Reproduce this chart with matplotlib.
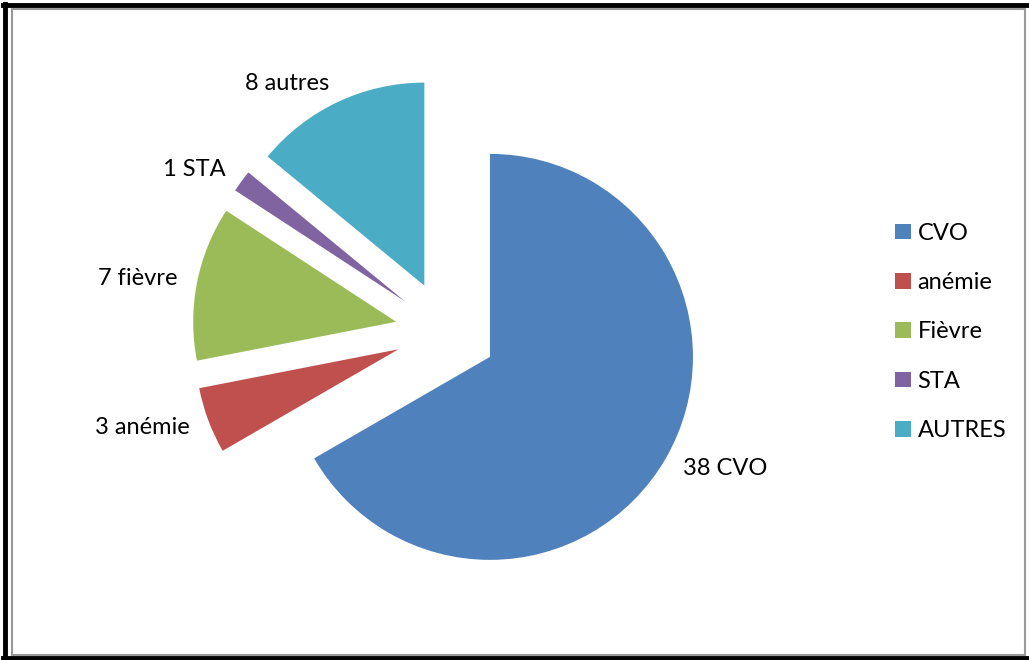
import matplotlib.pyplot as plt
from matplotlib.patches import Rectangle
from matplotlib.lines import Line2D

# Données
valeurs = [38, 3, 7, 1, 8]
etiquettes = ['38 CVO', '3 anémie', '7 fièvre', '1 STA', '8 autres']
legende = ['CVO', 'anémie', 'Fièvre', 'STA', 'AUTRES']
couleurs = ['#4F81BD', '#C0504D', '#9BBB59', '#8064A2', '#4BACC6']

plt.rcParams['font.family'] = ['Lato', 'DejaVu Sans']

W, H = 1029, 660
fig = plt.figure(figsize=(W / 100, H / 100), dpi=100)

# axes carré centré sur le centre du camembert (~446, 331 px), rayon ~203 px
taille = 600
ax = fig.add_axes([(446 - taille / 2) / W, (H - 331.5 - taille / 2) / H, taille / W, taille / H])
wedges, texts = ax.pie(valeurs, labels=etiquettes, colors=couleurs, startangle=90,
                       counterclock=False, explode=[0.25] * len(valeurs),
                       labeldistance=1.1, wedgeprops=dict(linewidth=0),
                       textprops=dict(fontsize=17, color='black'))
lim = taille / 2 / 203
ax.set_xlim(-lim, lim)
ax.set_ylim(-lim, lim)
ax.set_aspect('equal')
ax.axis('off')

fig.legend(wedges, legende, loc='center left', bbox_to_anchor=(874 / W, 1 - 332 / H),
           frameon=False, fontsize=17, handlelength=0.65, handleheight=0.65,
           handletextpad=0.3, labelspacing=1.2)

# cadre : trait noir en haut, à gauche et en bas, filet gris à l'intérieur
noir = dict(color='black', linewidth=3.5, transform=fig.transFigure)
fig.add_artist(Line2D([3 / W, 1], [1 - 5 / H, 1 - 5 / H], **noir))
fig.add_artist(Line2D([5 / W, 5 / W], [1 - 4 / H, 2 / H], **noir))
fig.add_artist(Line2D([3 / W, 1], [2 / H, 2 / H], **noir))
fig.add_artist(Rectangle((12 / W, 5 / H), (W - 16) / W, (H - 14) / H, transform=fig.transFigure,
                         fill=False, edgecolor='#999999', linewidth=1.5))

fig.savefig('out.png', dpi=100)
